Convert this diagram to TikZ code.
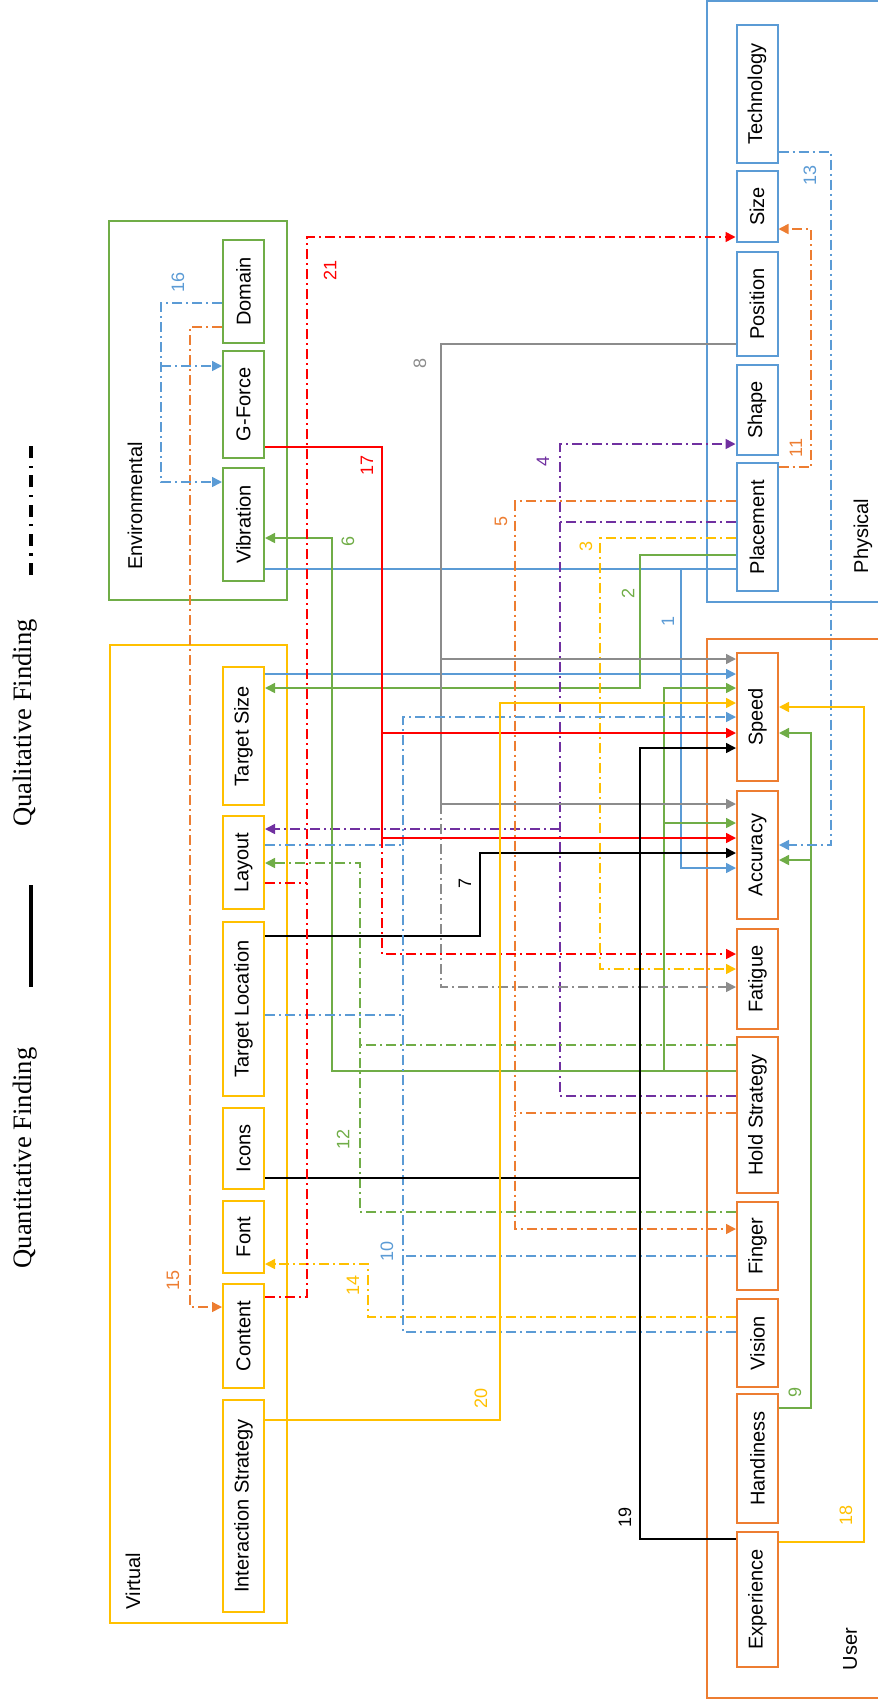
\documentclass[tikz,border=0pt]{standalone}
\usepackage{fontspec}
\setmainfont{Liberation Sans}
\newfontfamily\legfont{Liberation Serif}
\usetikzlibrary{arrows.meta}
\definecolor{cgreen}{HTML}{70AD47}
\definecolor{cyellow}{HTML}{FFC000}
\definecolor{cblue}{HTML}{5B9BD5}
\definecolor{corange}{HTML}{ED7D31}
\definecolor{cred}{HTML}{FF0000}
\definecolor{cpurple}{HTML}{7030A0}
\definecolor{cgray}{HTML}{8C8C8C}
\begin{document}
\begin{tikzpicture}[x=0.5pt,y=-0.5pt,
  member/.style={draw,line width=1pt,fill=white,minimum width=20.5pt,inner sep=0pt,font=\fontsize{10}{10}\selectfont},
  envn/.style={member,draw=cgreen},
  virn/.style={member,draw=cyellow},
  phyn/.style={member,draw=cblue},
  usrn/.style={member,draw=corange},
  grp/.style={line width=1pt},
  grplab/.style={rotate=90,font=\fontsize{10}{10}\selectfont},
  qn/.style={line width=0.8pt},
  ql/.style={line width=0.8pt,dash pattern=on 5pt off 2pt on 1pt off 2pt},
  arr/.style={-{Triangle[length=5pt,width=5pt]}},
  lab/.style={rotate=90,font=\fontsize{9}{9}\selectfont},
  legtext/.style={rotate=90,font=\legfont\fontsize{13.3}{13.3}\selectfont}]
\useasboundingbox (0,0) rectangle (878,1708);
\clip (0,0) rectangle (878,1708);

% legend
\node[legtext] (legqn) at (25,1158) {Quantitative Finding};
\node[legtext] (legql) at (25,723) {Qualitative Finding};
\coordinate (lqa) at (31,885); \coordinate (lqb) at (31,987);
\draw[line width=1.7pt] (lqa) -- (lqb);
\coordinate (lla) at (31,446); \coordinate (llb) at (31,575);
\draw[line width=1.7pt,dash pattern=on 6pt off 3.7pt on 1.2pt off 3.7pt] (llb) -- (lla);

% group boxes
\draw[grp,cgreen] (109,221) rectangle (287,600);
\draw[grp,cyellow] (110,645) rectangle (287,1623);
\draw[grp,cblue] (707,1) rectangle (890,602);
\draw[grp,corange] (707,639) rectangle (890,1698);
\node[grplab] (envlab) at (135,506) {Environmental};
\node[grplab] (virlab) at (133,1581) {Virtual};
\node[grplab] (phylab) at (863,536) {Physical};
\node[grplab] (usrlab) at (850,1649) {User};

% environmental
\node[envn,minimum height=51.5pt] (Domain) at (243.5,291.5) {\rotatebox{90}{Domain}};
\node[envn,minimum height=53.5pt] (GForce) at (243.5,404.5) {\rotatebox{90}{G-Force}};
\node[envn,minimum height=56.5pt] (Vibration) at (243.5,524.5) {\rotatebox{90}{Vibration}};

% virtual
\node[virn,minimum height=69pt] (TargetSize) at (243.5,736) {\rotatebox{90}{Target Size}};
\node[virn,minimum height=46.5pt] (Layout) at (243.5,862.5) {\rotatebox{90}{Layout}};
\node[virn,minimum height=87pt] (TargetLocation) at (243.5,1009) {\rotatebox{90}{Target Location}};
\node[virn,minimum height=40.5pt] (Icons) at (243.5,1148.5) {\rotatebox{90}{Icons}};
\node[virn,minimum height=36pt] (Font) at (243.5,1237) {\rotatebox{90}{Font}};
\node[virn,minimum height=52pt] (Content) at (243.5,1336) {\rotatebox{90}{Content}};
\node[virn,minimum height=106pt] (InteractionStrategy) at (243.5,1506) {\rotatebox{90}{Interaction Strategy}};

% physical
\node[phyn,minimum height=69pt] (Technology) at (757,94) {\rotatebox{90}{Technology}};
\node[phyn,minimum height=35.5pt] (Size) at (757,206.5) {\rotatebox{90}{Size}};
\node[phyn,minimum height=52pt] (Position) at (757,304) {\rotatebox{90}{Position}};
\node[phyn,minimum height=45pt] (Shape) at (757,410) {\rotatebox{90}{Shape}};
\node[phyn,minimum height=64pt] (Placement) at (757,527) {\rotatebox{90}{Placement}};

% user
\node[usrn,minimum height=64pt] (Speed) at (757.5,717) {\rotatebox{90}{Speed}};
\node[usrn,minimum height=64pt] (Accuracy) at (757.5,855) {\rotatebox{90}{Accuracy}};
\node[usrn,minimum height=50pt] (Fatigue) at (757.5,979) {\rotatebox{90}{Fatigue}};
\node[usrn,minimum height=78pt] (HoldStrategy) at (757.5,1115) {\rotatebox{90}{Hold Strategy}};
\node[usrn,minimum height=44pt] (Finger) at (757.5,1246) {\rotatebox{90}{Finger}};
\node[usrn,minimum height=44pt] (Vision) at (757.5,1343) {\rotatebox{90}{Vision}};
\node[usrn,minimum height=64.5pt] (Handiness) at (757.5,1458.5) {\rotatebox{90}{Handiness}};
\node[usrn,minimum height=67.5pt] (Experience) at (757.5,1599.5) {\rotatebox{90}{Experience}};

% 1
\draw[qn,cblue] (Vibration.east |- 0,569) -- (Placement.west |- 0,569);
\draw[qn,cblue,arr] (681,569) -- (681,868) -- (Accuracy.west |- 0,868);
\draw[qn,cblue,arr] (TargetSize.east |- 0,674) -- (Speed.west |- 0,674);
% 2
\draw[qn,cgreen,arr] (Placement.west |- 0,555) -- (640,555) -- (640,688) -- (TargetSize.east |- 0,688);
% 3
\draw[ql,cyellow,arr] (Placement.west |- 0,538) -- (600,538) -- (600,969) -- (Fatigue.west |- 0,969);
% 4
\draw[ql,cpurple] (Placement.west |- 0,522) -- (560,522);
\draw[ql,cpurple,arr] (HoldStrategy.west |- 0,1096) -- (560,1096) -- (560,444) -- (Shape.west |- 0,444);
\draw[ql,cpurple,arr] (560,829) -- (Layout.east |- 0,829);
% 5
\draw[ql,corange,arr] (Placement.west |- 0,501) -- (515,501) -- (515,1229) -- (Finger.west |- 0,1229);
\draw[ql,corange] (HoldStrategy.west |- 0,1113) -- (515,1113);
% 6
\draw[qn,cgreen,arr] (HoldStrategy.west |- 0,1071) -- (332,1071) -- (332,538) -- (Vibration.east |- 0,538);
\draw[qn,cgreen,arr] (664,1071) -- (664,688) -- (Speed.west |- 0,688);
\draw[qn,cgreen,arr] (664,823) -- (Accuracy.west |- 0,823);
% 7
\draw[qn,black,arr] (TargetLocation.east |- 0,936) -- (480,936) -- (480,853) -- (Accuracy.west |- 0,853);
% 8
\draw[qn,cgray,arr] (Position.west |- 0,344) -- (441,344) -- (441,804) -- (Accuracy.west |- 0,804);
\draw[qn,cgray,arr] (441,659) -- (Speed.west |- 0,659);
\draw[ql,cgray,arr] (441,804) -- (441,987) -- (Fatigue.west |- 0,987);
% 9
\draw[qn,cgreen,arr] (Handiness.east |- 0,1408) -- (811,1408) -- (811,733) -- (Speed.east |- 0,733);
\draw[qn,cgreen,arr] (811,860) -- (Accuracy.east |- 0,860);
% 10
\draw[ql,cblue,arr] (Vision.west |- 0,1332) -- (403,1332) -- (403,717) -- (Speed.west |- 0,717);
\draw[ql,cblue] (TargetLocation.east |- 0,1015) -- (403,1015);
\draw[ql,cblue] (Layout.east |- 0,845) -- (403,845);
\draw[ql,cblue] (Finger.west |- 0,1256) -- (403,1256);
% 11
\draw[ql,corange,arr] (Placement.east |- 0,467) -- (811,467) -- (811,229) -- (Size.east |- 0,229);
% 12
\draw[ql,cgreen,arr] (Finger.west |- 0,1212) -- (360,1212) -- (360,863) -- (Layout.east |- 0,863);
\draw[ql,cgreen] (HoldStrategy.west |- 0,1045) -- (360,1045);
% 13
\draw[ql,cblue,arr] (Technology.east |- 0,152) -- (831,152) -- (831,845) -- (Accuracy.east |- 0,845);
% 14
\draw[ql,cyellow,arr] (Vision.west |- 0,1317) -- (368,1317) -- (368,1264) -- (Font.east |- 0,1264);
% 15
\draw[ql,corange,arr] (Domain.west |- 0,327) -- (190,327) -- (190,1307) -- (Content.west |- 0,1307);
% 16
\draw[ql,cblue,arr] (Domain.west |- 0,303) -- (161,303) -- (161,482) -- (Vibration.west |- 0,482);
\draw[ql,cblue,arr] (161,366) -- (GForce.west |- 0,366);
% 17
\draw[qn,cred,arr] (GForce.east |- 0,447) -- (382,447) -- (382,838) -- (Accuracy.west |- 0,838);
\draw[qn,cred,arr] (382,733) -- (Speed.west |- 0,733);
\draw[ql,cred,arr] (382,838) -- (382,954) -- (Fatigue.west |- 0,954);
% 18
\draw[qn,cyellow,arr] (Experience.east |- 0,1542) -- (864,1542) -- (864,707) -- (Speed.east |- 0,707);
% 19
\draw[qn,black,arr] (Experience.west |- 0,1539) -- (640,1539) -- (640,748) -- (Speed.west |- 0,748);
\draw[qn,black] (Icons.east |- 0,1178) -- (640,1178);
% 20
\draw[qn,cyellow,arr] (InteractionStrategy.east |- 0,1420) -- (500,1420) -- (500,703) -- (Speed.west |- 0,703);
% 21
\draw[ql,cred,arr] (Content.east |- 0,1297) -- (307,1297) -- (307,237) -- (Size.west |- 0,237);
\draw[ql,cred] (Layout.east |- 0,883) -- (307,883);

% labels
\node[lab,cblue] (l1) at (668,621) {1};
\node[lab,cgreen] (l2) at (628,593) {2};
\node[lab,cyellow] (l3) at (586,546) {3};
\node[lab,cpurple] (l4) at (543,461) {4};
\node[lab,corange] (l5) at (501,521) {5};
\node[lab,cgreen] (l6) at (348,541) {6};
\node[lab,black] (l7) at (465,883) {7};
\node[lab,cgray] (l8) at (420,363) {8};
\node[lab,cgreen] (l9) at (795,1392) {9};
\node[lab,cblue] (l10) at (387,1251) {10};
\node[lab,corange] (l11) at (796,448) {11};
\node[lab,cgreen] (l12) at (343,1139) {12};
\node[lab,cblue] (l13) at (810,175) {13};
\node[lab,cyellow] (l14) at (353,1285) {14};
\node[lab,corange] (l15) at (173,1280) {15};
\node[lab,cblue] (l16) at (178,282) {16};
\node[lab,cred] (l17) at (367,465) {17};
\node[lab,cyellow] (l18) at (846,1515) {18};
\node[lab,black] (l19) at (625,1517) {19};
\node[lab,cyellow] (l20) at (481,1398) {20};
\node[lab,cred] (l21) at (330,270) {21};
\end{tikzpicture}
\end{document}
